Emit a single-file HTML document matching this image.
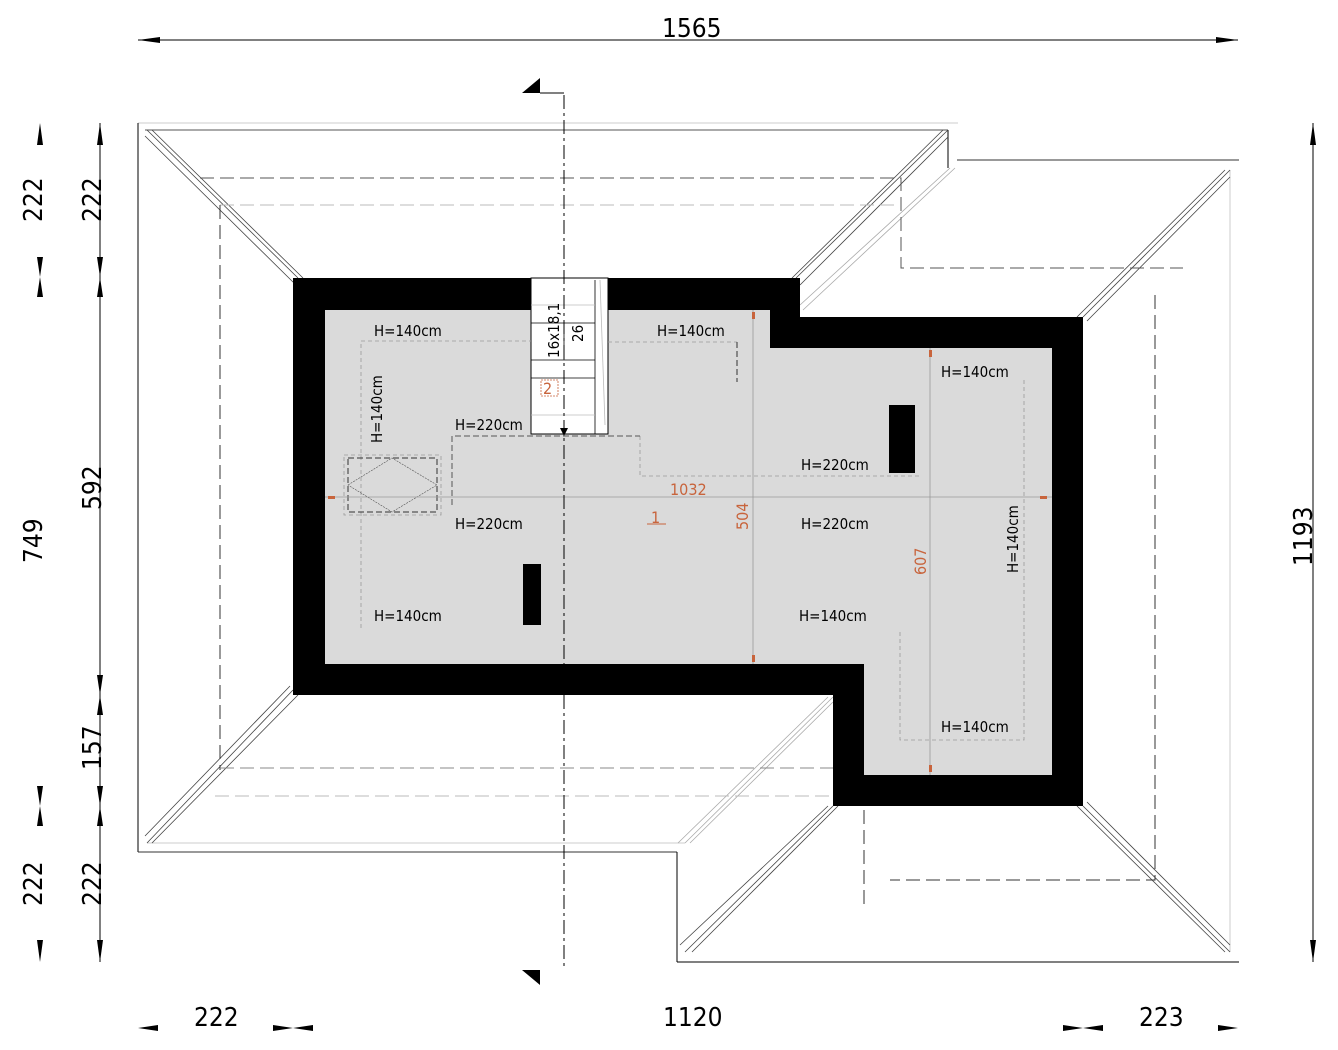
<!DOCTYPE html>
<html><head><meta charset="utf-8"><style>
html,body{margin:0;padding:0;background:#fff}
svg{display:block}
text{font-family:"Liberation Sans Narrow","DejaVu Sans Condensed","Liberation Sans",sans-serif}
</style></head><body>
<svg width="1338" height="1050" viewBox="0 0 1338 1050" xmlns="http://www.w3.org/2000/svg">
<rect width="1338" height="1050" fill="#fff"/>
<g fill="none" stroke-width="1">
<line x1="138" y1="123" x2="958" y2="123" stroke="#ccc"/>
<line x1="138" y1="123" x2="138" y2="852" stroke="#000"/>
<line x1="145" y1="130" x2="948" y2="130" stroke="#555"/>
<line x1="948" y1="130" x2="948" y2="168" stroke="#000"/>
<line x1="957" y1="160" x2="1239" y2="160" stroke="#333"/>
<line x1="1230" y1="170" x2="1230" y2="952" stroke="#ccc"/>
<line x1="138" y1="852" x2="677" y2="852" stroke="#333"/>
<line x1="147" y1="843" x2="685" y2="843" stroke="#ccc"/>
<line x1="677" y1="852" x2="677" y2="962" stroke="#000"/>
<line x1="677" y1="962" x2="1239" y2="962" stroke="#000"/>
</g>
<g fill="none" stroke="#444" stroke-width="0.8">
<path d="M147,130 L298,278 M152,130 L303,278 M145,136 L294,283"/>
<path d="M948,130 L796,278 M943,130 L792,278 M948,137 L800,285"/>
<path d="M955,168 L803,310 M950,168 L800,305" stroke="#aaa"/>
<path d="M1230,170 L1083,317 M1225,170 L1077,317 M1230,177 L1087,321"/>
<path d="M1230,952 L1083,806 M1225,952 L1077,806 M1230,945 L1087,802"/>
<path d="M685,952 L833,806 M692,952 L838,806 M680,945 L828,806"/>
<path d="M685,843 L833,697 M690,843 L833,702 M678,843 L828,697" stroke="#aaa"/>
<path d="M147,843 L293,690 M152,843 L298,695 M145,836 L290,686"/>
</g>
<g fill="none" stroke-width="1">
<path d="M200,178 H901 V268 H1183" stroke="#555" stroke-dasharray="14,6"/>
<path d="M220,205 H900" stroke="#bbb" stroke-dasharray="14,6"/>
<path d="M220,205 V770" stroke="#333" stroke-dasharray="14,6"/>
<path d="M220,768 H890" stroke="#888" stroke-dasharray="14,6"/>
<path d="M215,796 H833" stroke="#bbb" stroke-dasharray="14,6"/>
<path d="M1155,295 V880 H890" stroke="#333" stroke-dasharray="14,6"/>
<path d="M864,810 V905" stroke="#333" stroke-dasharray="14,6"/>
</g>
<path d="M293,278 H800 V317 H1083 V806 H833 V695 H293 Z" fill="#000"/>
<path d="M325,310 H770 V348 H1052 V775 H864 V664 H325 Z" fill="#dadada"/>
<rect x="531" y="278" width="77" height="156" fill="#fff" stroke="#000" stroke-width="1"/>
<g stroke="#000" stroke-width="0.8">
<line x1="531" y1="323" x2="595" y2="323"/><line x1="531" y1="360" x2="595" y2="360"/>
<line x1="531" y1="378" x2="595" y2="378"/><line x1="595" y1="280" x2="595" y2="434"/>
<line x1="564" y1="323" x2="564" y2="360"/>
</g>
<g stroke="#bbb" stroke-width="0.8"><line x1="531" y1="305" x2="595" y2="305"/><line x1="531" y1="415" x2="595" y2="415"/><line x1="600" y1="280" x2="605" y2="425"/></g>
<text x="0" y="0" font-size="15" transform="translate(559,358) rotate(-90)">16x18,1</text>
<text x="0" y="0" font-size="15" transform="translate(583,342) rotate(-90)">26</text>
<rect x="541" y="380" width="17" height="16" fill="none" stroke="#c8643c" stroke-width="0.8" stroke-dasharray="2,1"/>
<text x="543" y="394" font-size="16" fill="#c8643c">2</text>
<g fill="none" stroke="#999" stroke-width="0.8" stroke-dasharray="4,3">
<path d="M361,628 V341 H531"/><path d="M608,342 H737"/>
<path d="M640,436 V476 H921"/><path d="M1024,380 V740 H900 V630"/>
<rect x="344" y="455" width="97" height="60"/>
</g>
<path d="M737,342 V382" stroke="#333" stroke-dasharray="6,3"/>
<path d="M452,505 V436 H640" stroke="#555" fill="none" stroke-dasharray="6,3"/>
<rect x="348" y="458" width="89" height="54" fill="none" stroke="#333" stroke-dasharray="6,3"/>
<path d="M348,485 L392,458 L437,485 L392,512 Z" fill="none" stroke="#555" stroke-width="0.6" stroke-dasharray="2,1"/>
<rect x="889" y="405" width="26" height="68" fill="#000"/>
<rect x="523" y="564" width="18" height="61" fill="#000"/>
<line x1="325" y1="497" x2="1052" y2="497" stroke="#999" stroke-width="0.8"/>
<line x1="753" y1="310" x2="753" y2="664" stroke="#999" stroke-width="0.8"/>
<line x1="930" y1="348" x2="930" y2="775" stroke="#999" stroke-width="0.8"/>
<g fill="#c8643c"><rect x="328" y="496" width="7" height="3"/><rect x="1040" y="496" width="7" height="3"/>
<rect x="752" y="312" width="3" height="7"/><rect x="752" y="655" width="3" height="7"/>
<rect x="929" y="350" width="3" height="7"/><rect x="929" y="765" width="3" height="7"/></g>
<text x="670" y="495" font-size="16" fill="#c8643c">1032</text>
<text transform="translate(748,530) rotate(-90)" font-size="16" fill="#c8643c">504</text>
<text transform="translate(926,575) rotate(-90)" font-size="16" fill="#c8643c">607</text>
<text x="651" y="523" font-size="16" fill="#c8643c">1</text>
<line x1="647" y1="524" x2="666" y2="524" stroke="#c8643c"/>
<line x1="564" y1="95" x2="564" y2="970" stroke="#000" stroke-width="1" stroke-dasharray="14,4,3,4"/>
<path d="M522,93 L540,78 L540,93 Z" fill="#000"/>
<line x1="540" y1="93" x2="564" y2="93" stroke="#000"/>
<path d="M522,970 L540,970 L540,985 Z" fill="#000"/>
<path d="M560,428 L568,428 L564,436 Z" fill="#000"/>
<g font-size="15" fill="#000">
<text x="374" y="336">H=140cm</text>
<text x="657" y="336">H=140cm</text>
<text x="941" y="377">H=140cm</text>
<text x="455" y="430">H=220cm</text>
<text x="801" y="470">H=220cm</text>
<text x="455" y="529">H=220cm</text>
<text x="801" y="529">H=220cm</text>
<text x="374" y="621">H=140cm</text>
<text x="799" y="621">H=140cm</text>
<text x="941" y="732">H=140cm</text>
<text transform="translate(382,443) rotate(-90)">H=140cm</text>
<text transform="translate(1018,573) rotate(-90)">H=140cm</text>
</g>
<g stroke="#000" stroke-width="1">
<line x1="138" y1="40" x2="1238" y2="40"/>
<line x1="100" y1="123" x2="100" y2="962"/>
<line x1="1313" y1="123" x2="1313" y2="962"/>
</g>
<g fill="#000">
<path d="M138,40 L160,37 L160,43 Z"/><path d="M1238,40 L1216,37 L1216,43 Z"/>
<path d="M1313,123 L1310,145 L1316,145 Z"/><path d="M1313,962 L1310,940 L1316,940 Z"/>
<path d="M100,123 L97,145 L103,145 Z"/><path d="M100,277 L97,257 L103,257 Z"/><path d="M100,277 L97,297 L103,297 Z"/>
<path d="M100,695 L97,675 L103,675 Z"/><path d="M100,695 L97,715 L103,715 Z"/>
<path d="M100,806 L97,786 L103,786 Z"/><path d="M100,806 L97,826 L103,826 Z"/><path d="M100,962 L97,940 L103,940 Z"/>
<path d="M40,123 L37,145 L43,145 Z"/><path d="M40,277 L37,257 L43,257 Z"/><path d="M40,277 L37,297 L43,297 Z"/>
<path d="M40,806 L37,786 L43,786 Z"/><path d="M40,806 L37,826 L43,826 Z"/><path d="M40,962 L37,940 L43,940 Z"/>
<path d="M138,1028 L158,1025 L158,1031 Z"/><path d="M293,1028 L273,1025 L273,1031 Z"/><path d="M293,1028 L313,1025 L313,1031 Z"/>
<path d="M1083,1028 L1063,1025 L1063,1031 Z"/><path d="M1083,1028 L1103,1025 L1103,1031 Z"/><path d="M1238,1028 L1218,1025 L1218,1031 Z"/>
</g>
<g font-size="26" fill="#000">
<text x="662" y="37">1565</text>
<text x="194" y="1026">222</text>
<text x="663" y="1026">1120</text>
<text x="1139" y="1026">223</text>
<text transform="translate(42,222) rotate(-90)">222</text>
<text transform="translate(101,222) rotate(-90)">222</text>
<text transform="translate(101,510) rotate(-90)">592</text>
<text transform="translate(42,563) rotate(-90)">749</text>
<text transform="translate(101,770) rotate(-90)">157</text>
<text transform="translate(42,906) rotate(-90)">222</text>
<text transform="translate(101,906) rotate(-90)">222</text>
<text transform="translate(1312,566) rotate(-90)">1193</text>
</g>
</svg>
</body></html>
